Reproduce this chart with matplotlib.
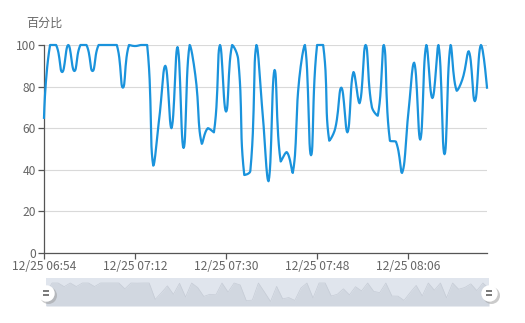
import numpy as np
import pandas as pd
import matplotlib
matplotlib.use('Agg')
import matplotlib.pyplot as plt
import matplotlib.dates as mdates
from matplotlib.transforms import offset_copy

plt.rcParams['font.family'] = ['Noto Sans CJK SC', 'DejaVu Sans']

# data: one sample about every 72 s
start_time = '2019-12-25 06:54:00'
sample_step = '72s'
percent = [65, 100, 100, 87, 100, 87.5, 100, 100, 87.5, 100,
           100, 100, 100, 79.5, 100, 99.5, 100, 100, 42, 65,
           90, 60, 99, 50.5, 100, 84, 52.5, 60, 58, 100,
           68, 100, 93, 37.5, 39.5, 100, 68, 34.5, 88, 44,
           48.5, 38.5, 82, 100, 47, 100, 100, 54, 60, 79.5,
           58, 87, 72, 100, 70.5, 66, 100, 54, 53.5, 38.5,
           66, 91.5, 54.5, 100, 74.5, 100, 47.5, 100, 78, 84,
           97, 73, 100, 79.5]
times = pd.date_range(start_time, periods=len(percent), freq=sample_step)
y_ticks = [0, 20, 40, 60, 80, 100]
x_ticks = ['2019-12-25 06:54', '2019-12-25 07:12', '2019-12-25 07:30',
           '2019-12-25 07:48', '2019-12-25 08:06']
y_name = '百分比'

LINE = '#1a93dc'
LABEL = '#666666'
AXIS = '#555555'
GRID = '#d9d9d9'


def smooth_curve(xs, ys, sx, sy, smooth=0.45, n=14):
    # echarts-like bezier smoothing in pixel space
    px = np.asarray(xs, float) * sx
    py = np.asarray(ys, float) * sy
    N = len(px)
    cin = np.column_stack([px, py]).copy()
    cout = cin.copy()
    for i in range(1, N - 1):
        vx = px[i + 1] - px[i - 1]
        vy = py[i + 1] - py[i - 1]
        d0 = np.hypot(px[i] - px[i - 1], py[i] - py[i - 1])
        d1 = np.hypot(px[i + 1] - px[i], py[i + 1] - py[i])
        r0 = d0 / (d0 + d1)
        r1 = d1 / (d0 + d1)
        a = py[i] - vy * smooth * r0
        b = py[i] + vy * smooth * r1
        cin[i] = [px[i] - vx * smooth * r0,
                  np.clip(a, min(py[i - 1], py[i]), max(py[i - 1], py[i]))]
        cout[i] = [px[i] + vx * smooth * r1,
                   np.clip(b, min(py[i], py[i + 1]), max(py[i], py[i + 1]))]
    t = np.linspace(0, 1, n)[:, None]
    pts = []
    for i in range(N - 1):
        p0 = np.array([px[i], py[i]])
        p3 = np.array([px[i + 1], py[i + 1]])
        c1, c2 = cout[i], cin[i + 1]
        seg = ((1 - t) ** 3) * p0 + 3 * ((1 - t) ** 2) * t * c1 + 3 * (1 - t) * t ** 2 * c2 + t ** 3 * p3
        pts.append(seg if i == 0 else seg[1:])
    pts = np.vstack(pts)
    return pts[:, 0] / sx, pts[:, 1] / sy


W, H = 525, 323
fig = plt.figure(figsize=(W / 100, H / 100), dpi=100)

# main plot
ax = fig.add_axes([44 / W, (H - 253) / H, (487 - 44) / W, (253 - 45) / H])
xnum = mdates.date2num(times)
ax.set_xlim(xnum[0], xnum[-1])
ax.set_ylim(0, 100)
sx = 443 / (xnum[-1] - xnum[0])
sy = 208 / 100
cx, cy = smooth_curve(xnum, percent, sx, sy)
ax.plot(cx, cy, color=LINE, lw=1.6, solid_joinstyle='round', zorder=3, clip_on=False)

ax.set_yticks(y_ticks)
ax.set_xticks(mdates.date2num(pd.to_datetime(x_ticks)))
ax.xaxis.set_major_formatter(mdates.DateFormatter('%m/%d %H:%M'))
ax.grid(axis='y', color=GRID, lw=0.8)
ax.set_axisbelow(True)
for s in ['top', 'right']:
    ax.spines[s].set_visible(False)
for s in ['left', 'bottom']:
    ax.spines[s].set_color(AXIS)
    ax.spines[s].set_linewidth(0.9)
ax.tick_params(axis='both', colors=AXIS, labelcolor=LABEL, labelsize=8.7,
               length=4, width=0.9)
ax.tick_params(axis='y', pad=2)
ax.tick_params(axis='x', pad=1)
ax.text(0, 1.075, y_name, transform=ax.transAxes, ha='center', va='bottom',
        fontsize=8.7, color=LABEL)

# data zoom slider
sl = fig.add_axes([46 / W, (H - 306) / H, (489 - 46) / W, 28 / H])
sl.set_xlim(xnum[0], xnum[-1])
sl.set_ylim(18.6, 117.7)
sl.set_facecolor('#e0e5ed')
sl.fill_between(xnum, 18.6, percent, color='#d1d7e0', lw=0)
sl.plot(xnum, percent, color='#c6ccd6', lw=0.5)
sl.set_xticks([])
sl.set_yticks([])
for s in sl.spines.values():
    s.set_visible(False)

hy = 65
for xe in [xnum[0], xnum[-1]]:
    shadow = offset_copy(sl.transData, fig=fig, x=1.5, y=-1.5, units='points')
    sl.scatter([xe], [hy], s=150, color='#999999', alpha=0.5, lw=0,
               transform=shadow, zorder=4, clip_on=False)
    sl.scatter([xe], [hy], s=140, color='white', lw=0, zorder=5, clip_on=False)
    for dy in [1.3, -1.3]:
        tr = offset_copy(sl.transData, fig=fig, x=0, y=dy, units='points')
        sl.plot([xe], [hy], marker='_', ms=4.5, mew=1.1, color='#555555',
                transform=tr, zorder=6, clip_on=False)

fig.savefig('out.png', dpi=100)
